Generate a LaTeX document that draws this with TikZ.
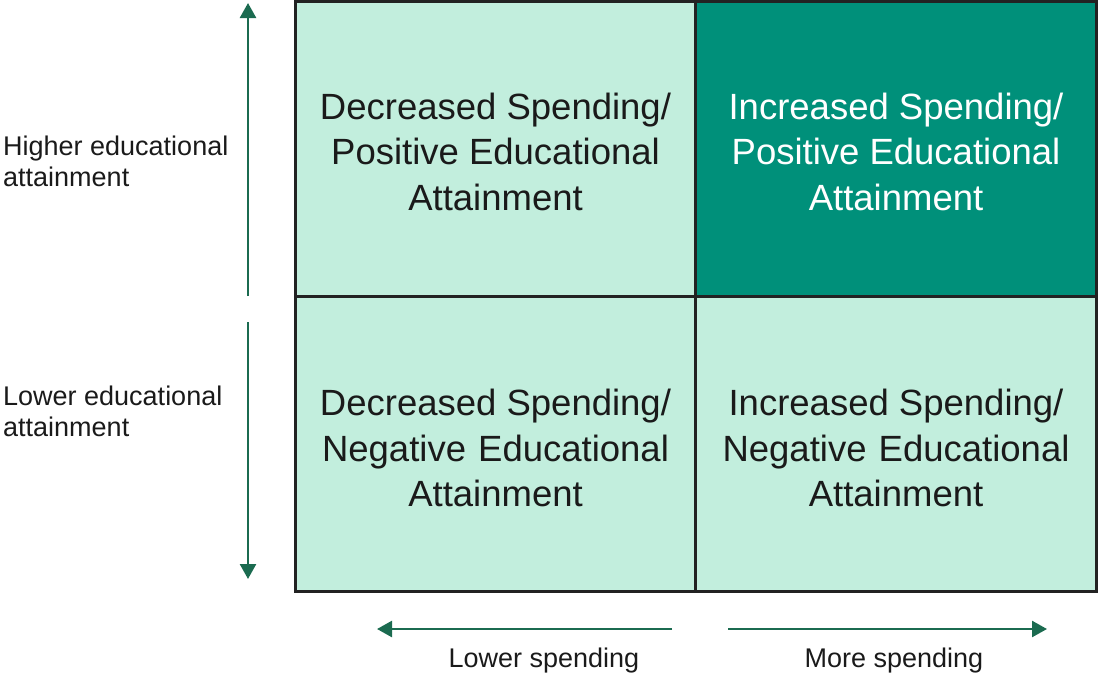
\documentclass[tikz,border=0pt]{standalone}
\usepackage{fontspec}
\setmainfont{Liberation Sans}
\usetikzlibrary{arrows.meta}
\definecolor{cellpale}{HTML}{C2EEDD}
\definecolor{celldark}{HTML}{00907A}
\definecolor{gridline}{HTML}{222222}
\definecolor{axisgreen}{HTML}{1B6B50}
\definecolor{labeltext}{HTML}{1A1A1A}
\tikzset{
  cell/.style={draw=gridline, line width=3pt, fill=cellpale,
    minimum width=401pt, minimum height=295pt},
  celltext/.style={text=labeltext, align=center,
    font=\fontsize{36.5}{45.5}\selectfont},
  axis/.style={draw=axisgreen, line width=2.5pt,
    -{Triangle[width=16pt,length=15pt]}},
  sidelabel/.style={text=labeltext, font=\fontsize{27}{31}\selectfont, inner sep=0pt}
}
\begin{document}
\begin{tikzpicture}[x=1pt, y=-1pt]
    \useasboundingbox (0,0) rectangle (1099,675);

    % 1. QUADRANTI
    \node[cell] (dec_pos) at (495.5,149) {};
    \node[cell, fill=celldark] (inc_pos) at (896,149) {};
    \node[cell] (dec_neg) at (495.5,444) {};
    \node[cell] (inc_neg) at (896,444) {};
    % testi
    \node[celltext] (dec_pos_text) at ([yshift=-2.5pt]dec_pos.center) {Decreased Spending/\\Positive Educational\\Attainment};
    \node[celltext, text=white] (inc_pos_text) at ([yshift=-2.5pt]inc_pos.center) {Increased Spending/\\Positive Educational\\Attainment};
    \node[celltext] (dec_neg_text) at ([yshift=-4pt]dec_neg.center) {Decreased Spending/\\Negative\ \hspace{2pt}Educational\\Attainment};
    \node[celltext] (inc_neg_text) at ([yshift=-4pt]inc_neg.center) {Increased Spending/\\Negative\ \hspace{2pt}Educational\\Attainment};

    % 2. ASSE VERTICALE
    \coordinate (up_tail) at (248,296);
    \coordinate (up_tip) at (248,3);
    \coordinate (down_tail) at (248,322);
    \coordinate (down_tip) at (248,579);
    \draw[axis] (up_tail) -- (up_tip);
    \draw[axis] (down_tail) -- (down_tip);
    \node[sidelabel, anchor=west, align=left] (higher_label) at (3,161.5) {Higher educational\\attainment};
    \node[sidelabel, anchor=west, align=left] (lower_label) at (3,411.5) {Lower educational\\attainment};

    % 3. ASSE ORIZZONTALE
    \coordinate (left_tail) at (672,629);
    \coordinate (left_tip) at (377,629);
    \coordinate (right_tail) at (728,629);
    \coordinate (right_tip) at (1047,629);
    \draw[axis] (left_tail) -- (left_tip);
    \draw[axis] (right_tail) -- (right_tip);
    \node[sidelabel] (lower_spend) at (544,661) {Lower spending};
    \node[sidelabel] (more_spend) at (894,661) {More spending};

\end{tikzpicture}
\end{document}
